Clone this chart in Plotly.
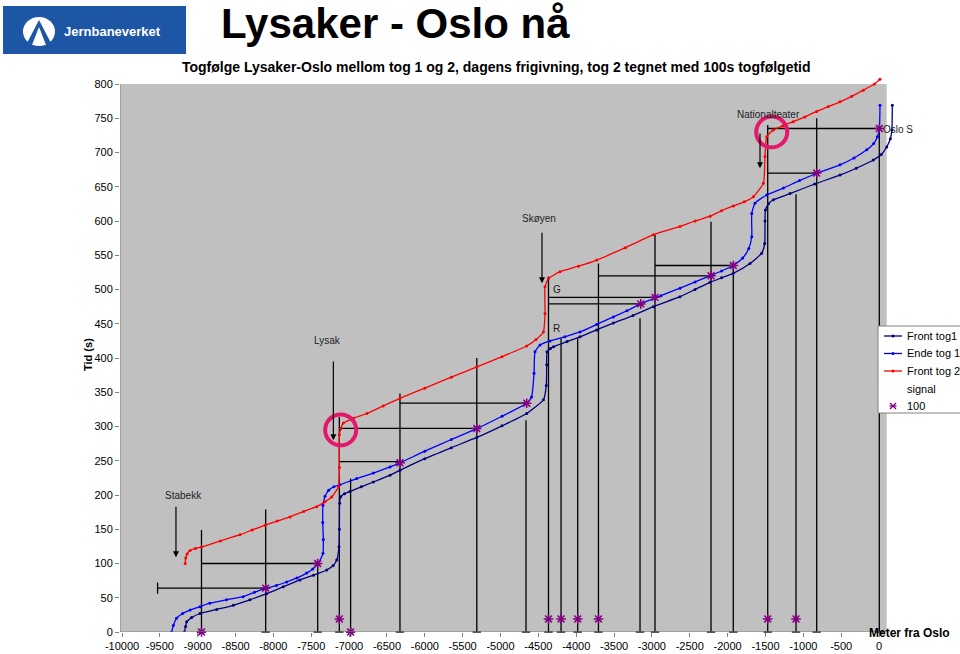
import plotly.graph_objects as go

# ---------------- data ----------------
front1_x = [-9175, -9160, -9145, -9080, -8970, -8750, -8530, -8310, -8090, -7870, -7650, -7470, -7295, -7210, -7163,
            -7133, -7128, -7125, -7110, -7060, -6990, -6840, -6680, -6460, -6328, -6000, -5650, -5313, -4980, -4654,
            -4433, -4395, -4390, -4385, -4340, -4300, -4120, -3950, -3730, -3509, -3250, -2980, -2629, -2430, -2232,
            -2080, -1925, -1704, -1550, -1510, -1506, -1500, -1460, -1395, -1176, -850, -515, -300, -75, 30, 102,
            150, 170, 176]
front1_y = [0, 8, 15, 21, 27, 33, 39, 47, 56, 66, 76, 83, 90.5, 97, 105,
            124.5, 150, 188, 197.5, 202, 205, 212, 219, 229, 236, 253, 269, 284, 301, 319,
            339, 360, 390, 409, 414, 416.5, 424, 431, 441, 451, 462, 475, 489.5, 500, 510.5,
            517, 523.6, 538, 553, 567, 600, 616, 625, 631, 640, 654, 667, 677, 689, 697, 708,
            720, 733, 769]

ende1_x = [-9345, -9320, -9280, -9200, -9100, -8970, -8840, -8620, -8400, -8250, -8090, -7960, -7825, -7690, -7560,
           -7480, -7405, -7345, -7340, -7348, -7345, -7318, -7270, -7200, -7120, -6900, -6680, -6460, -6328, -6000,
           -5650, -5313, -4980, -4654, -4590, -4557, -4544, -4478, -4346, -4150, -3950, -3730, -3509, -3330, -3147,
           -2880, -2629, -2430, -2232, -2080, -1925, -1800, -1720, -1681, -1681, -1638, -1483, -1263, -1050, -835,
           -515, -330, -162, -70, -21, 5, 13]
ende1_y = [0, 10, 20, 27, 32, 37, 42, 47, 51.5, 58, 64, 68, 73, 79, 86,
           92, 100, 115, 135, 160, 185, 198, 207, 212, 215, 224, 232, 241, 247, 264,
           281, 297, 315, 334, 343, 377.6, 409, 419, 425, 431, 438, 449, 460, 469, 479,
           491, 502, 511, 520, 527, 535, 546, 560, 577, 611, 626, 638, 648, 659, 669,
           682, 692, 704, 713, 723, 735, 769]

front2_x = [-9165, -9158, -9140, -9100, -9030, -8950, -8700, -8440, -8280, -8110, -7950, -7780, -7600, -7430, -7320,
            -7230, -7140, -7128, -7128, -7110, -7075, -6943, -6765, -6550, -6330, -6000, -5650, -5313, -4980, -4654,
            -4530, -4433, -4412, -4412, -4366, -4214, -3970, -3728, -3350, -2980, -2629, -2430, -2232, -2080, -1925,
            -1780, -1659, -1527, -1506, -1483, -1395, -1270, -1132, -980, -823, -670, -515, -360, -207, -60, 13]
front2_y = [100, 108, 114, 119, 122, 124, 133, 142, 149, 156, 162, 168, 176, 183, 190,
            197, 212, 240, 288, 297, 305, 312, 319, 330, 341, 356, 372, 387, 402, 417.5,
            427, 438, 465, 504, 516, 526, 534, 543, 561, 580, 592, 600, 607, 615, 622,
            628, 635.5, 655, 694, 723, 733, 739, 745, 752, 760, 767, 774, 782, 791, 800, 807]

# signals: vertical posts (position, top time)
signal_x = [-8950, -8102, -7415, -7129, -6980, -6328, -5313, -4663, -4366, -4200, -3980, -3706, -3157, -2959,
            -2219, -1925, -1470, -1096, -823, 4]
signal_top = [149, 179, 100, 314, 224, 348, 400, 309, 519, 429, 429, 538, 458, 580,
              599, 535, 740, 639, 750, 735]

# horizontal signal lines (time, from, to)
hline_y = [64, 100, 248.6, 297.3, 334, 488.6, 479, 520, 535, 670, 735]
hline_x0 = [-9530, -8950, -7129, -7129, -6328, -4366, -4366, -3706, -2959, -1470, -1470]
hline_x1 = [-8102, -7415, -6328, -5313, -4654, -2959, -3147, -2219, -1925, -823, 4]

# "100" markers
star_x = [-8950, -8102, -7415, -7129, -6980, -6328, -5313, -4654, -4366, -4200, -3980, -3706, -3147, -2959,
          -2219, -1925, -1470, -1096, -823, 4]
star_y = [0, 64, 100, 19, 0, 247, 297, 334, 19, 19, 19, 19, 479, 488.6,
          520, 535, 19, 19, 670, 735]

x_ticks = list(range(-10000, 1, 500))
y_ticks = list(range(0, 801, 50))

# station labels
station_names = ["Stabekk", "Lysak", "Skøyen", "Nationalteater"]
station_label_x = [-9194, -7279, -4491, -1466]
station_label_y = [200, 426, 604, 756]
station_arrow_x = [-9287, -7208, -4452, -1572]
station_arrow_top = [185, 397, 585, 730]
station_arrow_tip = [109, 280, 509, 677]

legend_names = ["Front tog1", "Ende tog 1", "Front tog 2", "signal", "100"]
legend_colors = ["#000080", "#0000FF", "#FF0000", None, "#800080"]

# ---------------- geometry ----------------
FONT = "Liberation Sans, Arial, sans-serif"
L, R, T, B = 120, 895, 74, 632
X0PX, SX = 879.0, 0.0757
SY = 0.685
XMIN = (L - X0PX) / SX
XMAX = (R - X0PX) / SX
YMAX = (B - T) / SY
GREY_RIGHT = (886.7 - X0PX) / SX
STAR = "#800080"


def px(xp):
    return (xp - L) / (R - L)


def py(yp):
    return (B - yp) / (B - T)


fig = go.Figure()

# signal lines
sx, sy = [], []
for x, top in zip(signal_x, signal_top):
    sx += [x, x, None]
    sy += [0, top, None]
for y, a, b in zip(hline_y, hline_x0, hline_x1):
    sx += [a, b, None]
    sy += [y, y, None]
fig.add_trace(go.Scatter(x=sx, y=sy, mode="lines", line=dict(color="black", width=1.3),
                         showlegend=False, hoverinfo="skip"))
fig.add_trace(go.Scatter(x=signal_x, y=[0] * len(signal_x), mode="markers",
                         marker=dict(symbol="line-ew-open", size=6, color="black", line=dict(color="black", width=1.3)),
                         showlegend=False, hoverinfo="skip", cliponaxis=False))
fig.add_trace(go.Scatter(x=[hline_x0[0]], y=[hline_y[0]], mode="markers",
                         marker=dict(symbol="line-ns-open", size=8, color="black", line=dict(color="black", width=1.3)),
                         showlegend=False, hoverinfo="skip"))

# trains
for xs, ys, name, col in [(front1_x, front1_y, "Front tog1", "#000080"),
                          (ende1_x, ende1_y, "Ende tog 1", "#0000FF"),
                          (front2_x, front2_y, "Front tog 2", "#FF0000")]:
    fig.add_trace(go.Scatter(x=xs, y=ys, mode="lines+markers", name=name, showlegend=False,
                             line=dict(color=col, width=1.3, shape="spline", smoothing=0.5),
                             marker=dict(size=3, color=col)))
fig.add_trace(go.Scatter(x=star_x, y=star_y, mode="markers", name="100", showlegend=False,
                         marker=dict(symbol="asterisk-open", size=8, color=STAR, line=dict(color=STAR, width=1.5)),
                         cliponaxis=False))

shapes = []
shapes.append(dict(type="rect", xref="x", yref="y", x0=XMIN, x1=GREY_RIGHT, y0=0, y1=800,
                   fillcolor="#C0C0C0", line=dict(width=0), layer="below"))
shapes.append(dict(type="line", xref="x", yref="y", x0=XMIN, x1=XMIN, y0=0, y1=800,
                   line=dict(color="#808080", width=1)))
shapes.append(dict(type="line", xref="x", yref="y", x0=XMIN, x1=GREY_RIGHT, y0=0, y1=0,
                   line=dict(color="#808080", width=1)))
for cx, cy in [(-7111, 295), (-1417, 730)]:
    shapes.append(dict(type="circle", xref="x", yref="y", x0=cx - 205, x1=cx + 205, y0=cy - 22.5, y1=cy + 22.5,
                       line=dict(color="#E5176B", width=4)))
# logo
shapes.append(dict(type="rect", xref="paper", yref="paper", x0=px(3), x1=px(186), y0=py(54), y1=py(6),
                   fillcolor="#1D56A5", line=dict(width=0)))
shapes.append(dict(type="circle", xref="paper", yref="paper", x0=px(23), x1=px(55), y0=py(46), y1=py(17),
                   fillcolor="white", line=dict(width=0)))
shapes.append(dict(type="path", xref="paper", yref="paper",
                   path=f"M {px(39)} {py(20)} L {px(52)} {py(45)} L {px(26)} {py(45)} Z",
                   fillcolor="#1D56A5", line=dict(width=0)))
shapes.append(dict(type="path", xref="paper", yref="paper",
                   path=f"M {px(39)} {py(27)} L {px(46)} {py(45)} L {px(32)} {py(45)} Z",
                   fillcolor="white", line=dict(width=0)))

ann = []
# manual legend
shapes.append(dict(type="rect", xref="paper", yref="paper", x0=px(878), x1=px(963), y0=py(413), y1=py(326),
                   fillcolor="white", line=dict(color="#808080", width=1)))
for i, (nm, col) in enumerate(zip(legend_names, legend_colors)):
    yy = 336 + i * 17.5
    if nm in ("Front tog1", "Ende tog 1", "Front tog 2"):
        shapes.append(dict(type="line", xref="paper", yref="paper", x0=px(884), x1=px(902), y0=py(yy), y1=py(yy),
                           line=dict(color=col, width=1.3)))
        shapes.append(dict(type="circle", xref="paper", yref="paper", x0=px(891.5), x1=px(894.5),
                           y0=py(yy + 1.5), y1=py(yy - 1.5), fillcolor=col, line=dict(width=0)))
    elif nm == "100":
        for dx0, dy0, dx1, dy1 in [(-3, -3, 3, 3), (-3, 3, 3, -3), (-3.5, 0, 3.5, 0)]:
            shapes.append(dict(type="line", xref="paper", yref="paper", x0=px(893 + dx0), x1=px(893 + dx1),
                               y0=py(yy + dy0), y1=py(yy + dy1), line=dict(color=col, width=1.3)))
    ann.append(dict(xref="paper", yref="paper", x=px(905), y=py(yy), text=nm, showarrow=False,
                    xanchor="left", yanchor="middle", font=dict(family=FONT, size=11, color="black")))

ann.append(dict(xref="paper", yref="paper", x=px(62), y=py(31), text="<b>Jernbaneverket</b>", showarrow=False,
                xanchor="left", yanchor="middle", font=dict(family=FONT, size=13, color="white")))
ann.append(dict(xref="paper", yref="paper", x=px(219), y=py(24), text="<b>Lysaker - Oslo nå</b>", showarrow=False,
                xanchor="left", yanchor="middle", font=dict(family=FONT, size=42, color="black")))
ann.append(dict(xref="paper", yref="paper", x=px(496), y=py(67),
                text="<b>Togfølge Lysaker-Oslo mellom tog 1 og 2, dagens frigivning, tog 2 tegnet med 100s togfølgetid</b>",
                showarrow=False, xanchor="center", yanchor="middle", font=dict(family=FONT, size=14, color="black")))
ann.append(dict(xref="paper", yref="paper", x=px(88), y=py(355), text="<b>Tid (s)</b>", textangle=-90,
                showarrow=False, xanchor="center", yanchor="middle", font=dict(family=FONT, size=11, color="black")))
ann.append(dict(xref="paper", yref="paper", x=px(909), y=py(633), text="<b>Meter fra Oslo</b>",
                showarrow=False, xanchor="center", yanchor="middle", font=dict(family=FONT, size=12, color="black")))
for name, lx, ly, ax, atop, atip in zip(station_names, station_label_x, station_label_y,
                                         station_arrow_x, station_arrow_top, station_arrow_tip):
    ann.append(dict(xref="x", yref="y", x=lx, y=ly, text=name, showarrow=False, xanchor="center",
                    yanchor="middle", font=dict(family=FONT, size=10, color="#222222")))
    ann.append(dict(xref="x", yref="y", x=ax, y=atip, ax=ax, ay=atop, axref="x", ayref="y", text="",
                    showarrow=True, arrowhead=2, arrowsize=1, arrowwidth=1.2, arrowcolor="black"))
ann.append(dict(xref="x", yref="y", x=20, y=734, text="Oslo S", showarrow=False, xanchor="left",
                yanchor="middle", font=dict(family=FONT, size=10, color="#222222")))
ann.append(dict(xref="x", yref="y", x=-4254, y=500.7, text="G", showarrow=False, xanchor="center",
                yanchor="middle", font=dict(family=FONT, size=10, color="#222222")))
ann.append(dict(xref="x", yref="y", x=-4254, y=443.8, text="R", showarrow=False, xanchor="center",
                yanchor="middle", font=dict(family=FONT, size=10, color="#222222")))

fig.update_layout(
    width=960, height=654,
    margin=dict(l=L, r=960 - R, t=T, b=654 - B, autoexpand=False),
    paper_bgcolor="white", plot_bgcolor="white", showlegend=False,
    font=dict(family=FONT, size=11, color="black"),
    shapes=shapes, annotations=ann,
    xaxis=dict(range=[XMIN, XMAX], tickmode="array", tickvals=x_ticks, ticktext=[str(v) for v in x_ticks],
               showgrid=False, zeroline=False, showline=False, ticks="outside", ticklen=4,
               tickcolor="#808080", tickfont=dict(family=FONT, size=11)),
    yaxis=dict(range=[0, YMAX], tickmode="array", tickvals=y_ticks, ticktext=[str(v) for v in y_ticks],
               showgrid=False, zeroline=False, showline=False, ticks="outside", ticklen=4,
               tickcolor="#808080", tickfont=dict(family=FONT, size=11)),
)

fig.write_html("out.html")
